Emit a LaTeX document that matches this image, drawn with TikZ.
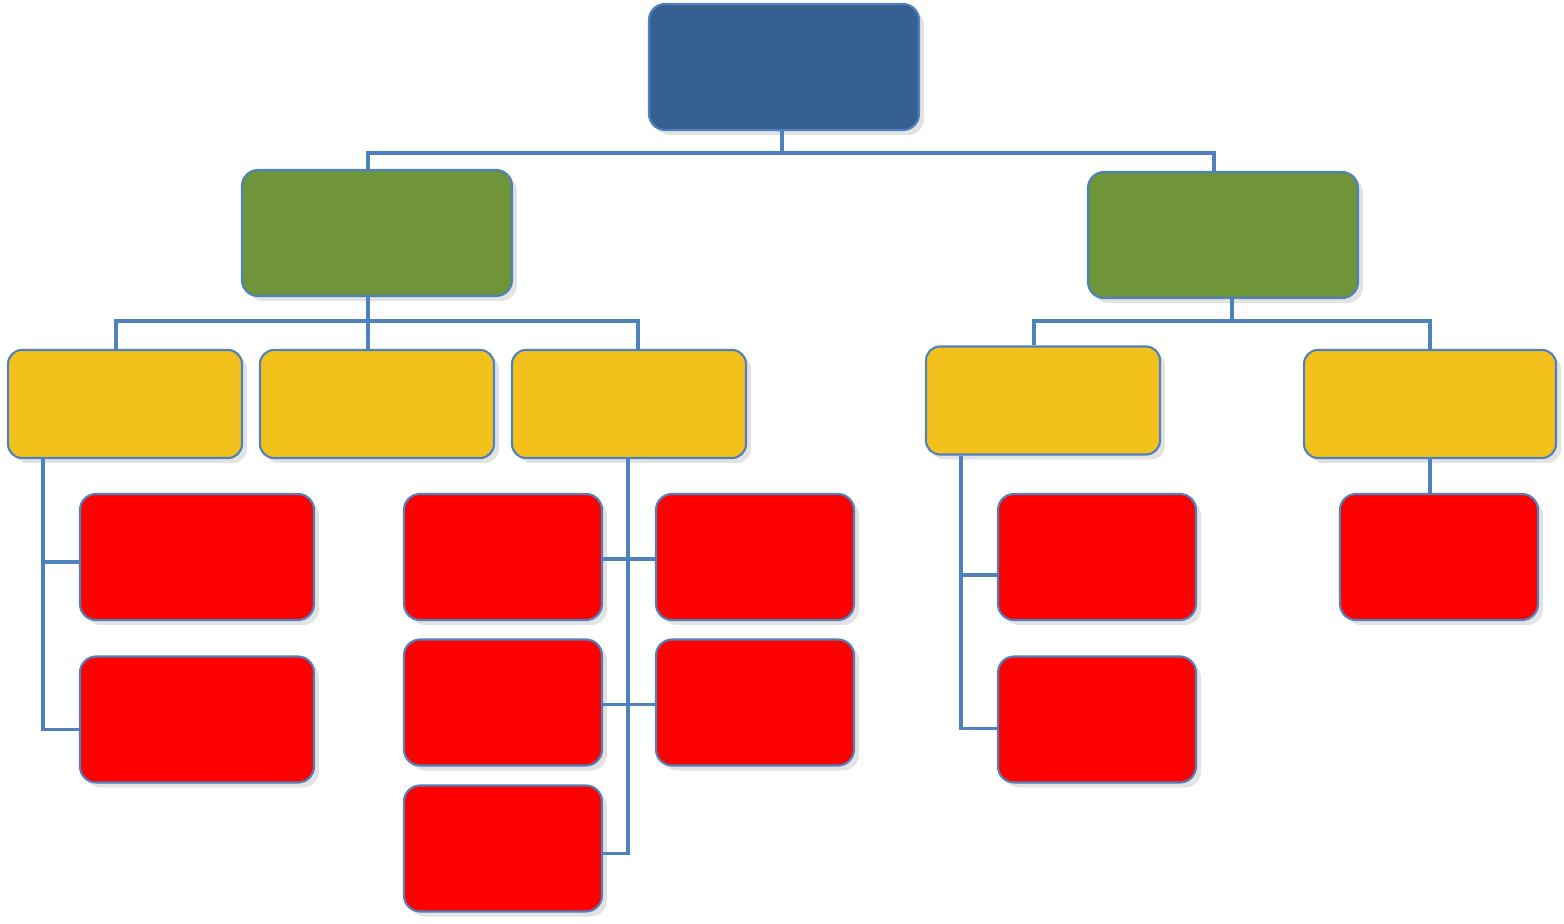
\documentclass[tikz,border=0pt]{standalone}
\usepackage{xcolor}
\usepackage{tikz}
\usetikzlibrary{shadows}

\definecolor{topblue}{HTML}{376092}
\definecolor{midgreen}{HTML}{6F9439}
\definecolor{lowyellow}{HTML}{F3C11B}
\definecolor{leafred}{HTML}{FF0000}
\definecolor{linkblue}{HTML}{4F81BD}

\begin{document}
\begin{tikzpicture}[
box/.style={draw=linkblue, line width=0.6pt, rounded corners=1.6mm, inner sep=0pt,
  drop shadow={opacity=0.22, shadow xshift=0.5mm, shadow yshift=-0.5mm}},
topbox/.style={box, fill=topblue, minimum width=27mm, minimum height=12.6mm},
midbox/.style={box, fill=midgreen, minimum width=27mm, minimum height=12.6mm},
lowbox/.style={box, fill=lowyellow, rounded corners=1.4mm, minimum width=23.4mm, minimum height=10.8mm},
leafbox/.style={box, fill=leafred, minimum width=23.4mm, minimum height=12.6mm},
smallleaf/.style={leafbox, minimum width=19.8mm},
link/.style={draw=linkblue, line width=1pt}
]
\useasboundingbox (0,0) rectangle (15.64,-9.24);

% levels
\node[topbox] (root) at (7.84,-0.67) {};
\node[midbox] (gl) at (3.77,-2.33) {};
\node[midbox] (gr) at (12.23,-2.35) {};

\node[lowbox] (y1) at (1.25,-4.04) {};
\node[lowbox] (y2) at (3.77,-4.04) {};
\node[lowbox] (y3) at (6.29,-4.04) {};
\node[lowbox] (y4) at (10.43,-4.005) {};
\node[lowbox, minimum width=25.2mm] (y5) at (14.30,-4.04) {};

\node[leafbox] (ra1) at (1.97,-5.57) {};
\node[leafbox] (ra2) at (1.97,-7.195) {};
\node[smallleaf] (rb1) at (5.03,-5.57) {};
\node[smallleaf] (rb2) at (5.03,-7.025) {};
\node[smallleaf] (rb3) at (5.03,-8.485) {};
\node[smallleaf] (rc1) at (7.55,-5.57) {};
\node[smallleaf] (rc2) at (7.55,-7.025) {};
\node[smallleaf] (rd1) at (10.97,-5.57) {};
\node[smallleaf] (rd2) at (10.97,-7.195) {};
\node[smallleaf] (re1) at (14.39,-5.57) {};

% connectors
\foreach \c in {gl,gr}
  \draw[link] ([xshift=-0.2mm]root.south) -- ++(0,-0.22) -| ([xshift=-0.9mm]\c.north);
\foreach \c/\dx in {y1/-0.9mm,y2/-0.9mm,y3/0.9mm}
  \draw[link] ([xshift=-0.9mm]gl.south) -- ++(0,-0.24) -| ([xshift=\dx]\c.north);
\foreach \c/\dx in {y4/-0.9mm,y5/0mm}
  \draw[link] ([xshift=0.9mm]gr.south) -- ++(0,-0.22) -| ([xshift=\dx]\c.north);

\draw[link] ([xshift=3.6mm]y1.south west) |- ([yshift=-0.5mm]ra1.west);
\draw[link] ([xshift=3.6mm]y1.south west) |- ([yshift=-1mm]ra2.west);
\foreach \c/\dy in {rb1/-0.2mm,rb2/-0.2mm,rb3/-0.5mm}
  \draw[link] ([xshift=-0.1mm]y3.south) |- ([yshift=\dy]\c.east);
\foreach \c in {rc1,rc2}
  \draw[link] ([xshift=-0.1mm]y3.south) |- ([yshift=-0.2mm]\c.west);
\draw[link] ([xshift=3.6mm]y4.south west) |- ([yshift=-1.8mm]rd1.west);
\draw[link] ([xshift=3.6mm]y4.south west) |- ([yshift=-0.9mm]rd2.west);
\draw[link] (y5.south) -- (y5.south |- re1.north);
\end{tikzpicture}
\end{document}
